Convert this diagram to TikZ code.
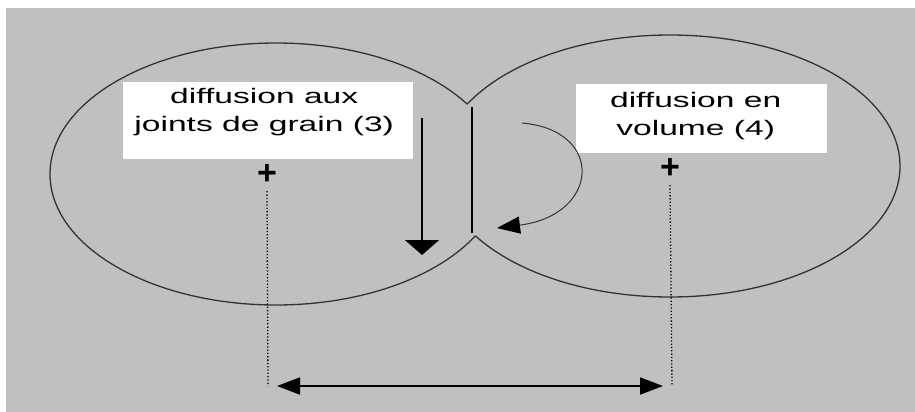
\documentclass[tikz,border=0pt]{standalone}
\usepackage{fontspec}
\setmainfont{Liberation Sans}
\newfontfamily\labelfont[FakeStretch=1.6]{Liberation Sans}
\usetikzlibrary{arrows.meta,positioning}
\definecolor{grainbg}{HTML}{C0C0C0}
\definecolor{grainline}{HTML}{333333}

\begin{document}
\begin{tikzpicture}[
  x=1pt,y=1pt,
  edge/.style={draw=grainline,line width=1.3pt},
  labelbox/.style={fill=white,inner sep=0pt,anchor=north west},
  labeltext/.style={font=\labelfont\fontsize{21}{28}\selectfont,align=center,inner sep=0pt,anchor=north},
  centremark/.style={font=\fontsize{34}{34}\selectfont\bfseries,inner sep=0pt},
  guide/.style={dotted,line width=1.3pt},
  arrow/.style={-{Triangle[length=15pt,width=34pt]},line width=1.8pt},
  curvearrow/.style={-{Triangle[length=23pt,width=17pt,color=black]},draw=grainline,line width=1pt},
  span/.style={{Triangle[length=23pt,width=17pt]}-{Triangle[length=23pt,width=17pt]},line width=1.8pt}
]
\useasboundingbox (0,0) rectangle (915,-412);
\fill[grainbg] (6,-8) rectangle (915,-412);

\coordinate (gL) at (276,-174);
\coordinate (gR) at (670,-166);

\begin{scope}[even odd rule]
  \clip (0,0) rectangle (915,-412) (gR) ellipse [x radius=230,y radius=131];
  \draw[edge] (gL) ellipse [x radius=226,y radius=131];
\end{scope}
\begin{scope}[even odd rule]
  \clip (0,0) rectangle (915,-412) (gL) ellipse [x radius=226,y radius=131];
  \draw[edge] (gR) ellipse [x radius=230,y radius=131];
\end{scope}

\node[labelbox,minimum width=290,minimum height=77] (boxJ) at (123,-82) {};
\node[labeltext] (txtJ) at ([xshift=-4,yshift=-6]boxJ.north) {diffusion aux\\joints de grain (3)};
\node[labelbox,minimum width=251,minimum height=69] (boxV) at (576,-84) {};
\node[labeltext] (txtV) at ([xshift=-6,yshift=-8]boxV.north) {diffusion en\\volume (4)};

\node[centremark] (cL) at (267,-175) {+};
\node[centremark] (cR) at (670,-169) {+};
\coordinate (aL) at (268,-386);
\coordinate (aR) at (672,-386);

\coordinate (jTop) at (472,-107);
\coordinate (jBot) at (472,-233);
\coordinate (dTop) at (422,-118);
\coordinate (dTip) at (422,-255);
\coordinate (vStart) at (522,-123);
\coordinate (vEnd) at (497,-228);

\draw[line width=1.8pt] (jTop) -- (jBot);
\draw[arrow] (dTop) -- (dTip);
\draw[curvearrow] (vStart) .. controls (605,-130) and (600,-215) .. (vEnd);

\draw[guide] ([yshift=-6]cL.south) -- (aL);
\draw[guide] ([yshift=-6]cR.south) -- (aR);
\draw[span] ([xshift=9]aL) -- ([xshift=-9]aR);
\end{tikzpicture}
\end{document}
